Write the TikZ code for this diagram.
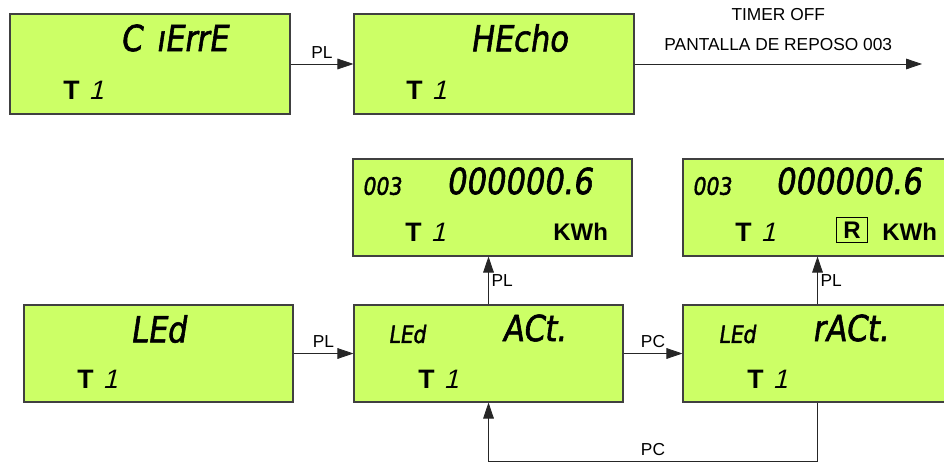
\documentclass[tikz,border=0pt]{standalone}
\usepackage{fontspec}
\setmainfont{Liberation Sans}
\newfontfamily\lcdfont[FakeSlant=0.15,FakeStretch=0.85,FakeBold=1.6]{DejaVu Sans}
\newfontfamily\segfont[FakeSlant=0.25]{Liberation Sans}
\definecolor{lcdgreen}{HTML}{CCFF66}
\definecolor{lcdedge}{HTML}{404040}
\usetikzlibrary{positioning, arrows.meta}
\newcommand{\Tuno}{\textbf{T}\hspace{0.35em}{\segfont 1}}

\begin{document}
\begin{tikzpicture}[
  x=0.75pt, y=-0.75pt,
  lcdbox/.style={draw=lcdedge, fill=lcdgreen, line width=0.8pt,
              inner sep=0pt, minimum height=72.75pt},
  lcdbig/.style={font=\lcdfont\fontsize{27}{27}\selectfont, anchor=west, inner sep=0pt},
  lcdsmall/.style={font=\lcdfont\fontsize{18}{18}\selectfont, anchor=west, inner sep=0pt},
  tarifa/.style={font=\fontsize{20}{20}\selectfont, anchor=west, inner sep=0pt},
  unit/.style={font=\bfseries\fontsize{18}{18}\selectfont, anchor=west, inner sep=0pt},
  lbl/.style={font=\fontsize{13}{15}\selectfont, inner sep=2pt},
  flow/.style={draw=black!85, line width=0.6pt, -{Triangle[length=12pt, width=8pt]}},
]
\useasboundingbox (0,0) rectangle (944,463);

% top row
\node[lcdbox, minimum width=210pt, minimum height=75pt] (cierre) at (150,64) {};
\node[lcdbig] (cierre-msg) at (120,38) {C\hspace{0.4em}ıErrE};
\node[tarifa] (cierre-t) at (63,90) {\Tuno};

\node[lcdbox, minimum width=210pt, minimum height=75pt] (hecho) at (494,64) {};
\node[lcdbig] (hecho-msg) at (470,38) {HEcho};
\node[tarifa] (hecho-t) at (406,90) {\Tuno};

\coordinate (reposo) at (922,64);

% energy displays
\node[lcdbox, minimum width=209.25pt] (kwh) at (492.5,207.5) {};
\node[lcdsmall] (kwh-id) at (362,186) {003};
\node[lcdbig] (kwh-val) at (446,181) {000000.6};
\node[tarifa] (kwh-t) at (405,232) {\Tuno};
\node[unit] (kwh-u) at (553,232) {KWh};

\node[lcdbox, minimum width=209.25pt] (rkwh) at (822.5,207.5) {};
\node[lcdsmall] (rkwh-id) at (692,186) {003};
\node[lcdbig] (rkwh-val) at (775,181) {000000.6};
\node[tarifa] (rkwh-t) at (735,232) {\Tuno};
\node[unit, draw, line width=1.1pt, inner xsep=5pt, inner ysep=3pt] (rkwh-r) at (836,230) {R};
\node[unit] (rkwh-u) at (882,232) {KWh};

% bottom row
\node[lcdbox, minimum width=201.75pt] (led) at (158.5,353.5) {};
\node[lcdbig] (led-msg) at (130,329) {LEd};
\node[tarifa] (led-t) at (77,379) {\Tuno};

\node[lcdbox, minimum width=201.75pt] (act) at (488.5,353.5) {};
\node[lcdsmall] (act-led) at (388,334) {LEd};
\node[lcdbig] (act-msg) at (502,328) {ACt.};
\node[tarifa] (act-t) at (418,379) {\Tuno};

\node[lcdbox, minimum width=201.75pt] (ract) at (817.5,353.5) {};
\node[lcdsmall] (ract-led) at (718,334) {LEd};
\node[lcdbig] (ract-msg) at (812,328) {rACt.};
\node[tarifa] (ract-t) at (747,379) {\Tuno};

\coordinate (fb) at (0,461);

% connectors
\draw[flow] (cierre) -- node[lbl, above=2pt] {PL} (hecho);
\draw[flow] (hecho) -- node[lbl, above=7.5pt] (pantalla) {PANTALLA DE REPOSO 003} (reposo);
\node[lbl, above=9pt of pantalla] (timer) {TIMER OFF};

\draw[flow] (led) -- node[lbl, above=2pt] {PL} (act);
\draw[flow] (act) -- node[lbl, above=2pt] {PC} (ract);
\draw[flow] (act) -- node[lbl, right] {PL} (act.north |- kwh.south);
\draw[flow] (ract) -- node[lbl, right] {PL} (ract.north |- rkwh.south);
\draw[flow] (ract.south) -- (ract.south |- fb)
  -- node[lbl, above=2pt] {PC} (act.south |- fb) -- (act.south);
\end{tikzpicture}
\end{document}
